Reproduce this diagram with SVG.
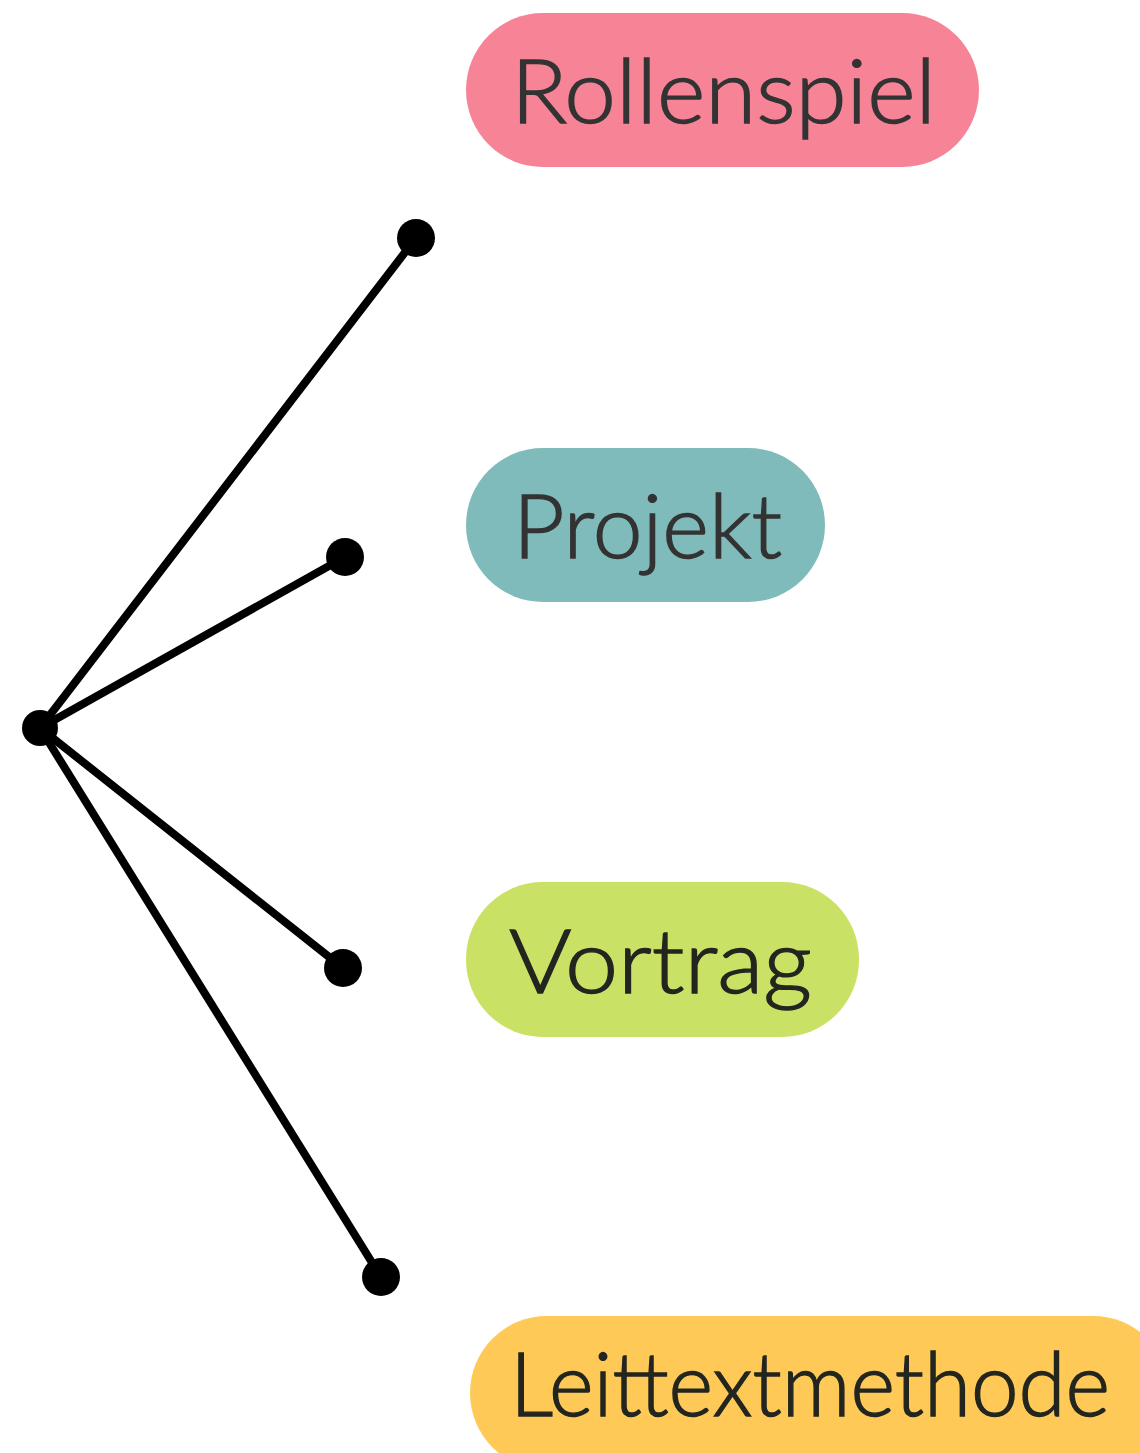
<svg xmlns="http://www.w3.org/2000/svg" width="1140" height="1453" viewBox="0 0 1140 1453">
  <style>
    .label { font-family: Lato, "Noto Sans", "Liberation Sans", sans-serif; font-size: 88px; font-weight: 300; stroke-width: 1.4px; }
    .dark { fill: #333333; stroke: #333333; }
    .darker { fill: #23251f; stroke: #23251f; }
    .edge { stroke: #000000; stroke-width: 8; stroke-linecap: round; fill: none; }
    .dot { fill: #000000; }
  </style>
  <rect width="1140" height="1453" fill="#ffffff"/>

  <g id="connectors">
    <line class="edge" x1="40" y1="728" x2="416" y2="238"/>
    <line class="edge" x1="40" y1="728" x2="345" y2="557"/>
    <line class="edge" x1="40" y1="728" x2="343" y2="968"/>
    <line class="edge" x1="40" y1="728" x2="381" y2="1277"/>
    <circle class="dot" cx="40" cy="728" r="18"/>
    <circle class="dot" cx="416" cy="238" r="19"/>
    <circle class="dot" cx="345" cy="557" r="19"/>
    <circle class="dot" cx="343" cy="968" r="19"/>
    <circle class="dot" cx="381" cy="1277" r="19"/>
  </g>

  <g id="node-rollenspiel">
    <rect x="466" y="13" width="513" height="154" rx="77" fill="#f68496"/>
    <text class="label dark" x="511" y="123" textLength="425" lengthAdjust="spacingAndGlyphs">Rollenspiel</text>
  </g>

  <g id="node-projekt">
    <rect x="466" y="448" width="359" height="154" rx="77" fill="#7fbbba"/>
    <text class="label dark" x="513" y="558" textLength="269" lengthAdjust="spacingAndGlyphs">Projekt</text>
  </g>

  <g id="node-vortrag">
    <rect x="466" y="882" width="393" height="155" rx="77" fill="#c9e265"/>
    <text class="label darker" x="509" y="993" textLength="303" lengthAdjust="spacingAndGlyphs">Vortrag</text>
  </g>

  <g id="node-leittextmethode">
    <rect x="470" y="1316" width="700" height="154" rx="77" fill="#fec957"/>
    <text class="label darker" x="510" y="1416" textLength="600" lengthAdjust="spacingAndGlyphs">Leittextmethode</text>
  </g>
</svg>
